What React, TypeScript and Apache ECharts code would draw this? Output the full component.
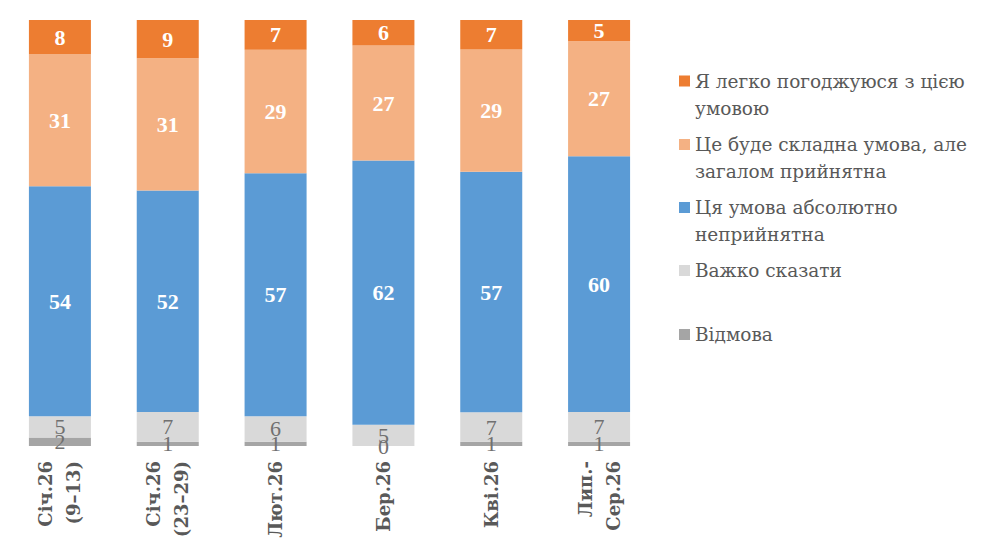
import { useRef, useEffect } from 'react'
import * as echarts from 'echarts'

// категорії (хвилі опитування)
const categories = ['Січ.26\n(9–13)', 'Січ.26\n(23–29)', 'Лют.26', 'Бер.26', 'Кві.26', 'Лип.-\nСер.26']

// від верхнього сегмента до нижнього
const seriesNames = [
  'Я легко погоджуюся з цією умовою',
  'Це буде складна умова, але загалом прийнятна',
  'Ця умова абсолютно неприйнятна',
  'Важко сказати',
  'Відмова',
]
const legendLabels = [
  'Я легко погоджуюся з цією\nумовою',
  'Це буде складна умова, але\nзагалом прийнятна',
  'Ця умова абсолютно\nнеприйнятна',
  'Важко сказати',
  'Відмова',
]

const easy = [8, 9, 7, 6, 7, 5]
const hardButOk = [31, 31, 29, 27, 29, 27]
const unacceptable = [54, 52, 57, 62, 57, 60]
const hardToSay = [5, 7, 6, 5, 7, 7]
const refusal = [2, 1, 1, 0, 1, 1]

const rawValues = [easy, hardButOk, unacceptable, hardToSay, refusal]
const colors = ['#ED7D31', '#F4B183', '#5B9BD5', '#D9D9D9', '#A5A5A5']

// кирилиця - DejaVu Serif, цифри - Liberation Serif
const FONT = 'DejaVu Serif'
const NUM_FONT = 'Liberation Serif'

// 100% stacked: нормуємо на суму по кожній хвилі
const totals = categories.map((_, i) => rawValues.reduce((s, arr) => s + arr[i], 0))

export default function App() {
  const cDom = useRef<HTMLDivElement>(null)

  useEffect(() => {
    document.body.style.margin = '0'
    if (!cDom.current) return
    const chart = echarts.init(cDom.current, null, { renderer: 'svg' })

    // легенда: окремий компонент для кожного пункту, щоб квадрат стояв біля першого рядка
    const legendTops = [67.5, 131, 194, 257, 321]
    const legends = seriesNames.map((name, i) => {
      const twoLines = legendLabels[i].includes('\n')
      return {
        data: [name],
        left: 679,
        top: legendTops[i],
        padding: 0,
        orient: 'vertical',
        selectedMode: false,
        itemWidth: 11,
        itemHeight: twoLines ? 38 : 11,
        icon: twoLines ? 'path://M0,0H11V11H0Z M0,38L11,38' : 'rect',
        itemStyle: { borderWidth: 0 },
        formatter: () => legendLabels[i],
        textStyle: {
          fontFamily: FONT,
          fontSize: 18.5,
          lineHeight: 27,
          color: '#595959',
        },
      }
    })

    // знизу вгору для стеку
    const order = [4, 3, 2, 1, 0]
    const series = order.map((idx) => {
      const light = idx >= 3
      return {
        name: seriesNames[idx],
        type: 'bar',
        stack: 'total',
        barWidth: '57.5%',
        itemStyle: { color: colors[idx] },
        label: {
          show: true,
          position: 'inside',
          fontFamily: NUM_FONT,
          fontSize: 22,
          fontWeight: light ? 'normal' : 'bold',
          color: light ? '#707070' : '#ffffff',
          formatter: (p: any) => String(rawValues[idx][p.dataIndex]),
        },
        data: rawValues[idx].map((v, i) => (v / totals[i]) * 100),
      }
    })

    const options = {
      animation: false,
      backgroundColor: '#ffffff',
      legend: legends,
      grid: {
        left: 6,
        top: 20,
        width: 647,
        bottom: 92,
        containLabel: false,
        outerBoundsMode: 'none',
      },
      xAxis: {
        type: 'category',
        data: categories,
        axisLine: { show: false },
        axisTick: { show: false },
        axisLabel: {
          interval: 0,
          rotate: 90,
          margin: 15,
          fontFamily: FONT,
          fontSize: 18,
          fontWeight: 'bold',
          lineHeight: 28,
          color: '#595959',
        },
      },
      yAxis: {
        type: 'value',
        min: 0,
        max: 100,
        show: false,
        splitLine: { show: false },
      },
      series,
    }

    chart.setOption(options as any)
    return () => {
      chart.dispose()
    }
  }, [])

  return <div ref={cDom} style={{ width: 999, height: 538 }}></div>
}
